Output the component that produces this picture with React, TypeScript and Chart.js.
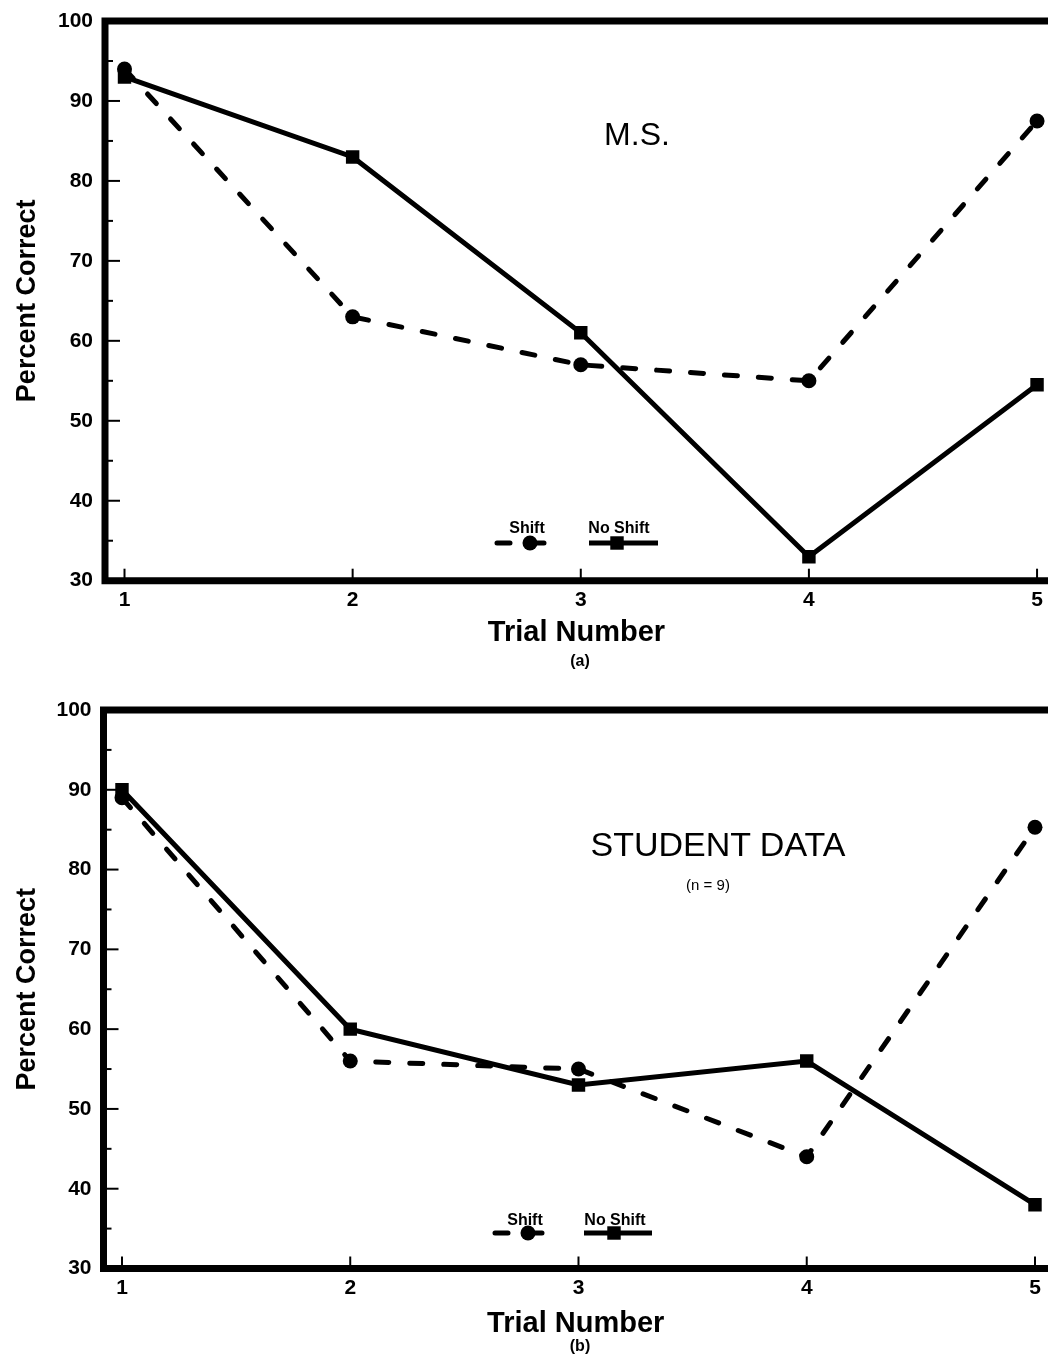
import React, { useEffect, useRef } from "react";
import { Chart, registerables } from "chart.js";

Chart.register(...registerables);

// ---------- data ----------
const trials = [1, 2, 3, 4, 5];
const yMin = 30;
const yMax = 100;
const yStep = 10;
const seriesNames = ["Shift", "No Shift"];
const msShift = [94, 63, 57, 55, 87.5];
const msNoShift = [93, 83, 61, 33, 54.5];
const studentShift = [89, 56, 55, 44, 85.3];
const studentNoShift = [90, 60, 53, 56, 38];
const xTitle = "Trial Number";
const yTitle = "Percent Correct";

const FONT = "'Liberation Sans', Arial, Helvetica, sans-serif";

type Panel = {
  top: number;
  height: number;
  padTop: number;
  yWidth: number;
  xHeight: number;
  xMin: number;
  xMax: number;
  titlePadBottom: number;
  shift: number[];
  noShift: number[];
  legendY: number;
  legend: { x1: number; x2: number; mx: number }[];
};

const panels: Panel[] = [
  {
    top: 0,
    height: 680,
    padTop: 21,
    yWidth: 105,
    xHeight: 99.3,
    xMin: 0.9145,
    xMax: 5.048,
    titlePadBottom: 30,
    shift: msShift,
    noShift: msNoShift,
    legendY: 543,
    legend: [
      { x1: 497, x2: 546, mx: 530 },
      { x1: 589, x2: 658, mx: 617 },
    ],
  },
  {
    top: 680,
    height: 678,
    padTop: 30,
    yWidth: 103.5,
    xHeight: 89.5,
    xMin: 0.919,
    xMax: 5.057,
    titlePadBottom: 17,
    shift: studentShift,
    noShift: studentNoShift,
    legendY: 1233 - 680,
    legend: [
      { x1: 495, x2: 548, mx: 528 },
      { x1: 584, x2: 652, mx: 614 },
    ],
  },
];

const framePlugin = {
  id: "frame",
  afterDatasetsDraw(chart: any) {
    const { ctx, chartArea, scales } = chart;
    const { left, right, top, bottom } = chartArea;
    const y = scales.y;
    const x = scales.x;
    ctx.save();
    ctx.strokeStyle = "#000";
    ctx.lineWidth = 7;
    ctx.lineJoin = "miter";
    ctx.beginPath();
    ctx.moveTo(right + 10, top);
    ctx.lineTo(left, top);
    ctx.lineTo(left, bottom);
    ctx.lineTo(right + 10, bottom);
    ctx.stroke();
    ctx.lineWidth = 2;
    for (let v = yMin + yStep / 2; v < yMax; v += yStep / 2) {
      const py = y.getPixelForValue(v);
      const major = Math.abs(v % yStep) < 1e-6;
      ctx.beginPath();
      ctx.moveTo(left, py);
      ctx.lineTo(left + (major ? 15 : 8), py);
      ctx.stroke();
    }
    x.ticks.forEach((t: any) => {
      const px = x.getPixelForValue(t.value);
      ctx.beginPath();
      ctx.moveTo(px, bottom);
      ctx.lineTo(px, bottom - 12);
      ctx.stroke();
    });
    ctx.restore();
  },
};

const legendPlugin = {
  id: "innerLegend",
  afterDatasetsDraw(chart: any, _args: any, opts: any) {
    const { ctx } = chart;
    const items = opts.items || [];
    ctx.save();
    items.forEach((it: any, i: number) => {
      const ds = chart.data.datasets[i];
      ctx.strokeStyle = "#000";
      ctx.fillStyle = "#000";
      ctx.lineWidth = ds.borderWidth;
      ctx.lineCap = ds.borderCapStyle || "butt";
      ctx.setLineDash(ds.borderDash || []);
      ctx.beginPath();
      ctx.moveTo(it.x1, opts.y);
      ctx.lineTo(it.x2, opts.y);
      ctx.stroke();
      ctx.setLineDash([]);
      if (ds.pointStyle === "circle") {
        ctx.beginPath();
        ctx.arc(it.mx, opts.y, ds.pointRadius, 0, Math.PI * 2);
        ctx.fill();
      } else {
        const s = ds.pointRadius * Math.SQRT1_2;
        ctx.fillRect(it.mx - s, opts.y - s, 2 * s, 2 * s);
      }
    });
    ctx.restore();
  },
};

function makeConfig(p: Panel): any {
  const toPts = (arr: number[]) => trials.map((t, i) => ({ x: t, y: arr[i] }));
  return {
    type: "line",
    data: {
      datasets: [
        {
          label: seriesNames[0],
          data: toPts(p.shift),
          borderColor: "#000",
          backgroundColor: "#000",
          borderWidth: 5,
          borderDash: [13, 21],
          borderCapStyle: "round",
          pointStyle: "circle",
          pointRadius: 7.5,
          pointBorderWidth: 0,
          pointBackgroundColor: "#000",
          tension: 0,
        },
        {
          label: seriesNames[1],
          data: toPts(p.noShift),
          borderColor: "#000",
          backgroundColor: "#000",
          borderWidth: 5,
          borderCapStyle: "butt",
          pointStyle: "rect",
          pointRadius: 9.5,
          pointBorderWidth: 0,
          pointBackgroundColor: "#000",
          tension: 0,
        },
      ],
    },
    options: {
      responsive: false,
      animation: false,
      devicePixelRatio: 1,
      layout: { autoPadding: false, padding: { top: p.padTop, left: 0, right: 0, bottom: 0 } },
      plugins: {
        legend: { display: false },
        tooltip: { enabled: false },
        innerLegend: { y: p.legendY, items: p.legend },
      },
      scales: {
        x: {
          type: "linear",
          min: p.xMin,
          max: p.xMax,
          afterBuildTicks: (scale: any) => {
            scale.ticks = trials.map((v) => ({ value: v }));
          },
          afterFit: (scale: any) => {
            scale.height = p.xHeight;
          },
          grid: { display: false, drawTicks: true, tickLength: 7 },
          border: { display: false },
          ticks: {
            padding: 0,
            color: "#000",
            font: { family: FONT, size: 21, weight: "bold" },
            maxRotation: 0,
            autoSkip: false,
            callback: (v: any) => String(v),
          },
          title: {
            display: true,
            text: xTitle,
            color: "#000",
            font: { family: FONT, size: 29, weight: "bold" },
            padding: { top: 0, bottom: p.titlePadBottom },
          },
        },
        y: {
          type: "linear",
          min: yMin,
          max: yMax,
          afterFit: (scale: any) => {
            scale.width = p.yWidth;
          },
          grid: { display: false, drawTicks: true, tickLength: 12 },
          border: { display: false },
          ticks: {
            stepSize: yStep,
            padding: 0,
            color: "#000",
            font: { family: FONT, size: 21, weight: "bold" },
          },
          title: {
            display: true,
            text: yTitle,
            color: "#000",
            font: { family: FONT, size: 27, weight: "bold" },
            padding: { top: 11, bottom: 0 },
          },
        },
      },
    },
    plugins: [framePlugin, legendPlugin],
  };
}

function PanelChart({ p }: { p: Panel }) {
  const ref = useRef<HTMLCanvasElement | null>(null);
  useEffect(() => {
    if (!ref.current) return;
    const chart = new Chart(ref.current, makeConfig(p));
    return () => chart.destroy();
  }, [p]);
  return (
    <canvas
      ref={ref}
      width={1048}
      height={p.height}
      style={{ position: "absolute", left: 0, top: p.top, width: 1048, height: p.height }}
    />
  );
}

function Label({ text, x, y, size, weight = "normal" }: { text: string; x: number; y: number; size: number; weight?: string }) {
  return (
    <div
      style={{
        position: "absolute",
        left: x,
        top: y,
        transform: "translate(-50%, -50%)",
        fontFamily: FONT,
        fontSize: size,
        fontWeight: weight as any,
        lineHeight: 1,
        whiteSpace: "nowrap",
        color: "#000",
      }}
    >
      {text}
    </div>
  );
}

export default function App() {
  return (
    <div
      style={{
        position: "absolute",
        left: 0,
        top: 0,
        width: 1048,
        height: 1358,
        overflow: "hidden",
        background: "#fff",
      }}
    >
      {panels.map((p, i) => (
        <PanelChart key={i} p={p} />
      ))}
      <Label text="M.S." x={637} y={134} size={32} />
      <Label text="STUDENT DATA" x={718} y={844} size={34} />
      <Label text="(n = 9)" x={708} y={884} size={15} />
      <Label text="(a)" x={580} y={661} size={16} weight="bold" />
      <Label text="(b)" x={580} y={1346} size={16} weight="bold" />
      <Label text={seriesNames[0]} x={527} y={528} size={16} weight="bold" />
      <Label text={seriesNames[1]} x={619} y={528} size={16} weight="bold" />
      <Label text={seriesNames[0]} x={525} y={1220} size={16} weight="bold" />
      <Label text={seriesNames[1]} x={615} y={1220} size={16} weight="bold" />
    </div>
  );
}
